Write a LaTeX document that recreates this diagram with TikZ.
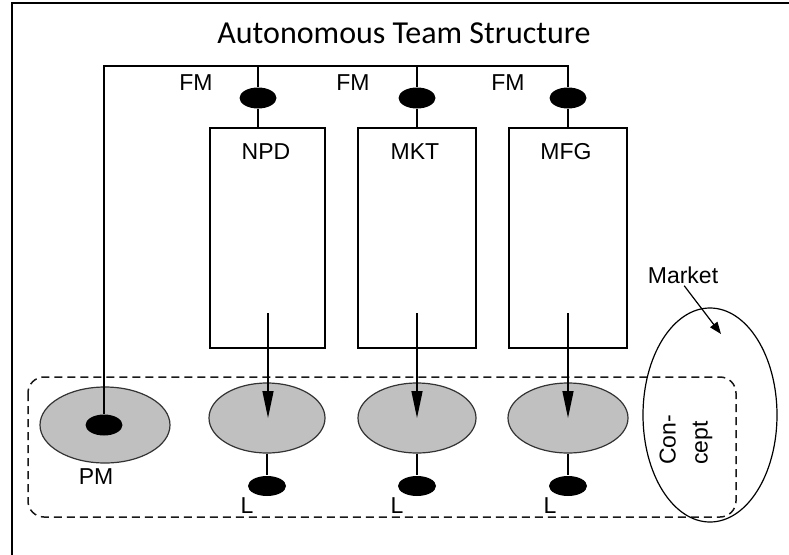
\documentclass[tikz,border=0pt]{standalone}
\usepackage{fontspec}
\setmainfont{Liberation Sans}
\newfontfamily\titlefont{Carlito}
\usetikzlibrary{arrows.meta,shapes.geometric}
\definecolor{teamgrey}{RGB}{192,192,192}
\begin{document}
\begin{tikzpicture}[x=1pt,y=-1pt,
  line width=1.4pt,
  lbl/.style={font=\fontsize{23}{27}\selectfont, inner sep=0pt},
  dotnode/.style={ellipse, fill=black, inner sep=0pt, minimum width=37pt, minimum height=21pt},
  unit/.style={rectangle, draw, minimum height=220pt, inner sep=0pt},
  team/.style={ellipse, draw=black!80, fill=teamgrey, inner sep=0pt, line width=1.2pt},
  flow/.style={-{Triangle[length=27pt,width=11pt]}},
  scope/.style={dash pattern=on 8pt off 5pt, line width=1.5pt, draw=black!90, rounded corners=16pt},
]
\useasboundingbox (0,0) rectangle (789,554);
\fill[white] (0,0) rectangle (789,554);
% outer frame (only its left and top edges fall on the page)
\draw[line width=2pt] (12,560) -- (12,3) -- (795,3);

% title
\node[font=\titlefont\fontsize{32}{36}\selectfont, anchor=base] (title) at (404,43) {Autonomous Team Structure};

% functional departments
\node[unit, minimum width=115pt] (npd) at (267.5,238) {};
\node[unit, minimum width=118pt] (mkt) at (417,238) {};
\node[unit, minimum width=118pt] (mfg) at (568,238) {};
\node[lbl] (npdname) at (266,152) {NPD};
\node[lbl] (mktname) at (415,152) {MKT};
\node[lbl] (mfgname) at (566,152) {MFG};

% functional managers
\node[dotnode] (fm1) at (258,98) {};
\node[dotnode] (fm2) at (417,98) {};
\node[dotnode] (fm3) at (568,98) {};
\node[lbl] (fm1lbl) at (196,83) {FM};
\node[lbl] (fm2lbl) at (353,83) {FM};
\node[lbl] (fm3lbl) at (508,83) {FM};
\coordinate (busR) at (568,66);

% dashed team boundary
\draw[scope] (28,377) rectangle (736,517);

% team members
\node[team, minimum width=130pt, minimum height=76pt] (pm) at (105,425) {};
\node[team, minimum width=116pt, minimum height=70pt] (npdE) at (267,418) {};
\node[team, minimum width=118pt, minimum height=70pt] (mktE) at (417,418) {};
\node[team, minimum width=120pt, minimum height=70pt] (mfgE) at (568,418) {};
\node[dotnode] (pmdot) at (104,425) {};
\node[lbl] (pmlbl) at (96,477) {PM};

% reporting lines
\draw (pmdot.north) |- (busR) -- (fm3.north);
\draw (fm1.north) -- (fm1.north |- busR);
\draw (fm2.north) -- (fm2.north |- busR);
\draw (fm1.south) -- (fm1.south |- npd.north);
\draw (fm2.south) -- (fm2.south |- mkt.north);
\draw (fm3.south) -- (fm3.south |- mfg.north);

% flows from departments into the team
\coordinate (npdA) at (268,313);
\coordinate (mktA) at (417,313);
\coordinate (mfgA) at (568,313);
\draw[flow] (npdA) -- (npdA |- npdE.center);
\draw[flow] (mktA) -- (mktA |- mktE.center);
\draw[flow] (mfgA) -- (mfgA |- mfgE.center);

% liaisons
\node[dotnode, minimum width=38pt, minimum height=20pt] (npdL) at (267,486) {};
\node[dotnode, minimum width=38pt, minimum height=20pt] (mktL) at (417,486) {};
\node[dotnode, minimum width=38pt, minimum height=20pt] (mfgL) at (568,486) {};
\draw (npdE.south) -- (npdL.north);
\draw (mktE.south) -- (mktL.north);
\draw (mfgE.south) -- (mfgL.north);
\node[lbl] (npdLlbl) at (247,506) {L};
\node[lbl] (mktLlbl) at (397,506) {L};
\node[lbl] (mfgLlbl) at (550,506) {L};

% market and concept
\node[ellipse, draw, minimum width=134pt, minimum height=214pt, inner sep=0pt, line width=1.2pt] (market) at (710,415) {};
\node[lbl] (marketlbl) at (683,275) {Market};
\coordinate (marketTip) at (721,334);
\draw[-{Triangle[length=12pt,width=9pt]}, line width=1.2pt, shorten <=2pt] (marketlbl.south) -- (marketTip);
\node[lbl, rotate=90, align=left, font=\fontsize{23}{32}\selectfont] (concept) at (686,440) {Con-\\cept};
\end{tikzpicture}
\end{document}
